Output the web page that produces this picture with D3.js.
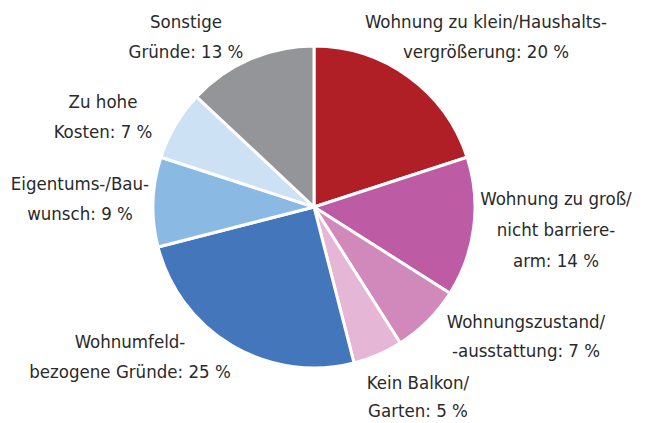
<!DOCTYPE html>
<html>
<head>
<meta charset="utf-8">
<script src="https://cdn.jsdelivr.net/npm/d3@7"></script>
<style>
body { margin:0; background:#fff; }
svg text { font-family: "Liberation Sans Narrow", "DejaVu Sans Condensed", "Open Sans", sans-serif; font-stretch: condensed; font-size:18.5px; fill:#2a2a2a; }
</style>
</head>
<body>
<svg id="chart" width="646" height="423"></svg>
<script>
// Umzugsgründe, Anteile in %
var reasons = ["Wohnung zu klein/Haushaltsvergrößerung","Wohnung zu groß/nicht barrierearm","Wohnungszustand/-ausstattung","Kein Balkon/Garten","Wohnumfeldbezogene Gründe","Eigentums-/Bauwunsch","Zu hohe Kosten","Sonstige Gründe"];
var shares = [20,14,7,5,25,9,7,13];
var labelLines = [
	["Wohnung zu klein/Haushalts-","vergrößerung: 20 %"],
	["Wohnung zu groß/","nicht barriere-","arm: 14 %"],
	["Wohnungszustand/","-ausstattung: 7 %"],
	["Kein Balkon/","Garten: 5 %"],
	["Wohnumfeld-","bezogene Gründe: 25 %"],
	["Eigentums-/Bau-","wunsch: 9 %"],
	["Zu hohe","Kosten: 7 %"],
	["Sonstige","Gründe: 13 %"]
];
var colors = ["#b01f25","#bd5ba5","#d189bb","#e6b6d6","#4476bb","#8abae3","#cde1f5","#949599"];

// label anchor (x, first baseline) and line spacing
var labelPos = [[486,28],[556,205],[526,328],[418,389],[130,348],[80,190],[103,108],[186,28]];
var lineH = [30,31,29,28,30,30,30,30];

var cx = 314, cy = 207, radius = 161;
var svg = d3.select("#chart");

var pie = d3.pie().sort(null).value(function(d){ return d; });
var arc = d3.arc().innerRadius(0).outerRadius(radius);

var g = svg.append("g").attr("transform","translate("+cx+","+cy+")");
g.selectAll("path")
	.data(pie(shares))
	.enter()
	.append("path")
	.attr("d", arc)
	.style("fill", function(d,i){ return colors[i]; })
	.style("stroke", "#fff")
	.style("stroke-width", 3)
	.style("stroke-linejoin", "round");

var labels = svg.append("g").selectAll("text")
	.data(labelLines)
	.enter()
	.append("text")
	.attr("text-anchor","middle")
	.attr("x", function(d,i){ return labelPos[i][0]; })
	.attr("y", function(d,i){ return labelPos[i][1]; });

labels.each(function(lines,i){
	var t = d3.select(this);
	lines.forEach(function(l,j){
		t.append("tspan")
			.attr("x", labelPos[i][0])
			.attr("dy", j==0 ? 0 : lineH[i])
			.text(l);
	});
});
</script>
</body>
</html>
